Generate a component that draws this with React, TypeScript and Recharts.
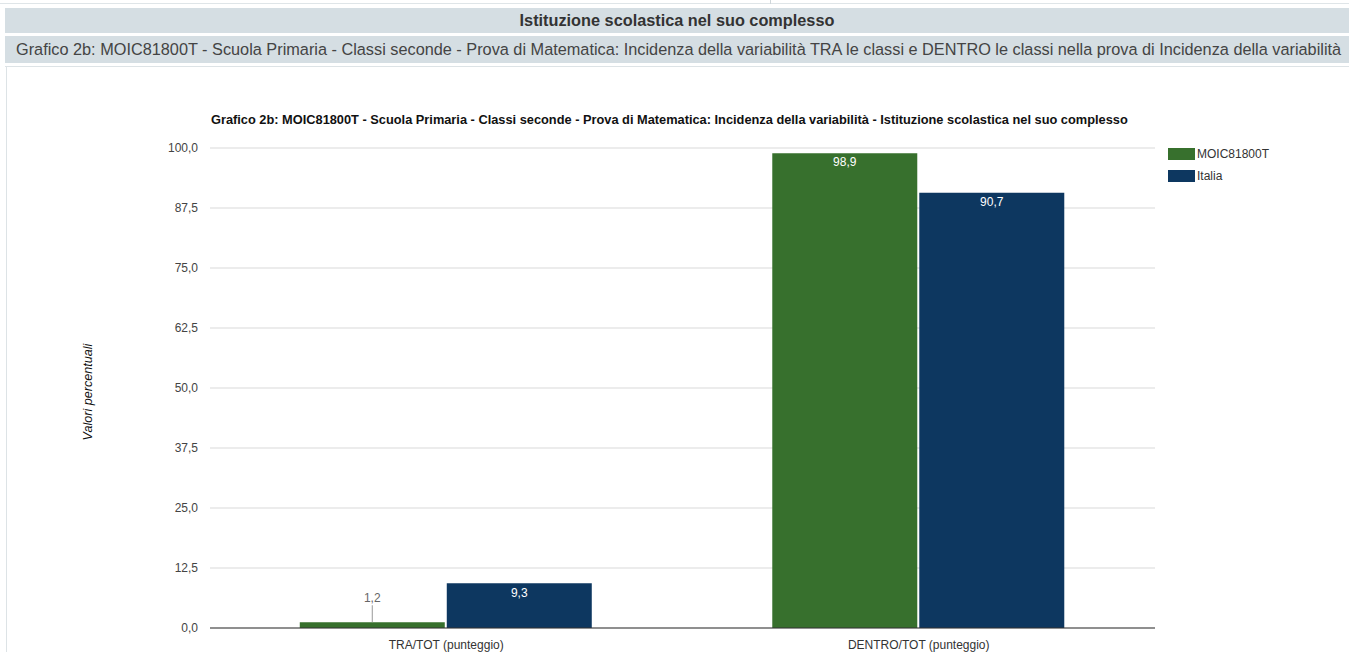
import React from 'react';
import {
  BarChart,
  Bar,
  XAxis,
  YAxis,
  CartesianGrid,
} from 'recharts';

const categories = ['TRA/TOT (punteggio)', 'DENTRO/TOT (punteggio)'];
const scuolaValues = [1.2, 98.9];
const italiaValues = [9.3, 90.7];
const yTicks = [0, 12.5, 25, 37.5, 50, 62.5, 75, 87.5, 100];
const seriesNames = ['MOIC81800T', 'Italia'];

const GREEN = '#37702d';
const NAVY = '#0d3760';
const seriesColors = [GREEN, NAVY];
const FONT = '"Liberation Sans", Arial, sans-serif';

const data = categories.map((name, i) => ({
  name,
  scuola: scuolaValues[i],
  italia: italiaValues[i],
}));

const fmt = (v: number) => v.toFixed(1).replace('.', ',');

// short bars get the value above with a leader line, tall ones inside in white
function BarValueLabel(props: any) {
  const { x, y, width, height, value } = props;
  const cx = x + width / 2;
  if (height < 20) {
    return (
      <g>
        <line x1={cx} x2={cx} y1={y - 17} y2={y} stroke="#999" strokeWidth={1} />
        <text x={cx} y={y - 23} textAnchor="middle" dominantBaseline="middle" fontSize={12} fill="#666" fontFamily={FONT}>
          {fmt(value)}
        </text>
      </g>
    );
  }
  return (
    <text x={cx} y={y + 10} textAnchor="middle" dominantBaseline="middle" fontSize={12} fill="#fff" fontFamily={FONT}>
      {fmt(value)}
    </text>
  );
}

const band: React.CSSProperties = {
  position: 'absolute',
  left: 5,
  right: 0,
  background: '#d5dee3',
  fontFamily: FONT,
  color: '#333',
  whiteSpace: 'nowrap',
  overflow: 'hidden',
};

export default function App() {
  return (
    <div style={{ position: 'absolute', left: 0, top: 0, width: 1349, height: 652, overflow: 'hidden', background: '#fff' }}>
      <div style={{ position: 'absolute', left: 0, right: 0, top: 3, height: 1, background: '#dfe5e8' }} />
      <div style={{ position: 'absolute', left: 770, top: 0, width: 1, height: 4, background: '#cfd6da' }} />
      <div style={{ ...band, top: 8, height: 25, lineHeight: '25px', textAlign: 'center', fontWeight: 'bold', fontSize: 16.3 }}>
        Istituzione scolastica nel suo complesso
      </div>
      <div style={{ ...band, top: 36, height: 27, lineHeight: '27px', paddingLeft: 11, color: '#444', fontSize: 16.3 }}>
        Grafico 2b: MOIC81800T - Scuola Primaria - Classi seconde - Prova di Matematica: Incidenza della variabilità TRA le classi e DENTRO le classi nella prova di Incidenza della variabilità
      </div>
      <div style={{ position: 'absolute', left: 5, right: 0, top: 66, height: 1, background: '#dde3e6' }} />
      <div style={{ position: 'absolute', left: 6, top: 66, width: 1, bottom: 0, background: '#dde3e6' }} />

      <div style={{ position: 'absolute', left: 211, top: 112, fontFamily: FONT, fontSize: 12.8, fontWeight: 'bold', color: '#111', whiteSpace: 'nowrap' }}>
        Grafico 2b: MOIC81800T - Scuola Primaria - Classi seconde - Prova di Matematica: Incidenza della variabilità - Istituzione scolastica nel suo complesso
      </div>

      <div
        style={{
          position: 'absolute',
          left: 88,
          top: 392,
          transform: 'translate(-50%, -50%) rotate(-90deg)',
          fontFamily: FONT,
          fontSize: 12.6,
          fontStyle: 'italic',
          color: '#111',
          whiteSpace: 'nowrap',
        }}
      >
        Valori percentuali
      </div>

      <div style={{ position: 'absolute', left: 1168, top: 143, fontFamily: FONT, fontSize: 12, color: '#333' }}>
        {seriesNames.map((n, i) => (
          <div key={n} style={{ display: 'flex', alignItems: 'center', height: 22 }}>
            <span style={{ width: 27, height: 12, background: seriesColors[i], marginRight: 2, display: 'inline-block' }} />
            <span>{n}</span>
          </div>
        ))}
      </div>

      <div style={{ position: 'absolute', left: 0, top: 0 }}>
        <BarChart
          width={1349}
          height={652}
          data={data}
          margin={{ top: 148, right: 194, left: 140, bottom: 0 }}
          barCategoryGap="19%"
          barGap={2}
        >
          <CartesianGrid vertical={false} stroke="#d9d9d9" />
          <XAxis
            dataKey="name"
            height={24}
            tickLine={false}
            axisLine={{ stroke: '#333' }}
            tick={{ fontSize: 12, fill: '#333', fontFamily: FONT }}
            tickMargin={6}
          />
          <YAxis
            width={70}
            domain={[0, 100]}
            ticks={yTicks}
            tickFormatter={fmt}
            axisLine={false}
            tickLine={false}
            tick={{ fontSize: 12, fill: '#444', fontFamily: FONT }}
            tickMargin={6}
          />
          <Bar dataKey="scuola" name={seriesNames[0]} fill={GREEN} isAnimationActive={false} label={<BarValueLabel />} />
          <Bar dataKey="italia" name={seriesNames[1]} fill={NAVY} isAnimationActive={false} label={<BarValueLabel />} />
        </BarChart>
      </div>
    </div>
  );
}
